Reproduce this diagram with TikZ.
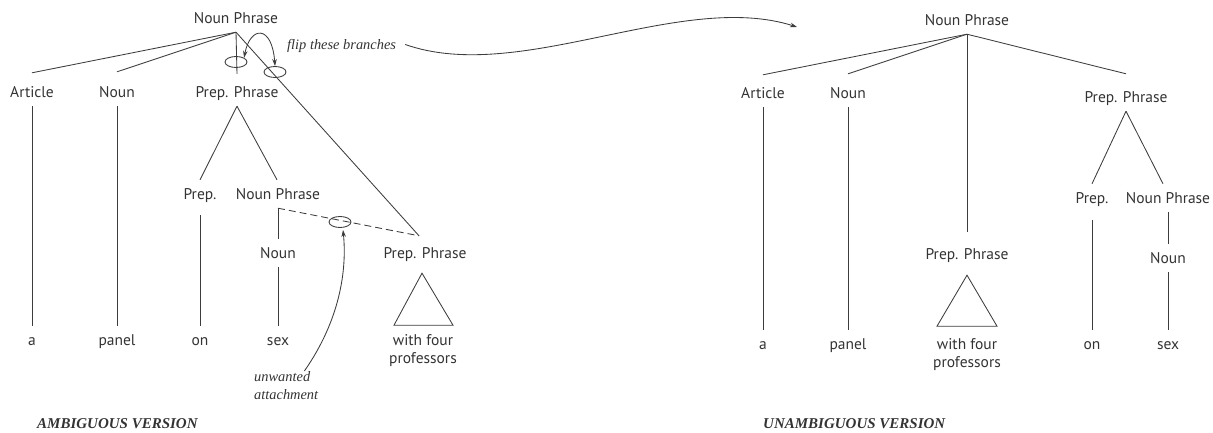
\documentclass[tikz,border=0pt]{standalone}
\usepackage{fontspec}
\setmainfont{Liberation Serif}
\newfontfamily\treefont{PT Sans}
\usetikzlibrary{arrows.meta,shapes.geometric}
\definecolor{ink}{HTML}{333333}
\definecolor{branch}{HTML}{3C3C3C}
\begin{document}
\begin{tikzpicture}[x=1pt,y=-1pt,
  lab/.style={font=\treefont\fontsize{15.5}{17}\selectfont, text=ink,
    inner xsep=1pt, inner ysep=8.7pt, text height=10.6pt, text depth=0pt},
  phrase/.style={font=\treefont\fontsize{15.5}{18}\selectfont, text=ink,
    align=center, inner sep=0pt, anchor=north},
  note/.style={font=\fontsize{14.4}{18}\selectfont\itshape, text=ink,
    inner sep=0pt, align=left},
  caption/.style={font=\fontsize{15}{18}\selectfont\bfseries\itshape,
    text=ink, inner sep=0pt, anchor=base west},
  br/.style={draw=branch, line width=0.85pt},
  ring/.style={ellipse, draw=branch, line width=0.85pt, minimum width=22pt,
    minimum height=11pt, inner sep=0pt},
  tip/.style={-{Stealth[length=7pt,width=4.5pt]}},
  tips/.style={{Stealth[length=7pt,width=4.5pt]}-{Stealth[length=7pt,width=4.5pt]}}
]
\useasboundingbox (0,0) rectangle (1213,433);

% ---------------- ambiguous tree ----------------
\node[lab] (np1)    at (236,18)  {Noun Phrase};
\node[lab] (art1)   at (32,92)   {Article};
\node[lab] (n1)     at (117,92)  {Noun};
\node[lab] (pp1)    at (237,92)  {Prep. Phrase};
\node[lab] (prep1)  at (200,194) {Prep.};
\node[lab] (npb1)   at (278,194) {Noun Phrase};
\node[lab] (nb1)    at (278,253) {Noun};
\node[lab] (ppb1)   at (425,253) {Prep. Phrase};
\node[lab] (a1)     at (32,340)  {a};
\node[lab] (panel1) at (117,340) {panel};
\node[lab] (on1)    at (200,340) {on};
\node[lab] (sex1)   at (278,340) {sex};
\node[phrase] (wf1) at (423,334) {with four\\professors};
\coordinate (ppb1top) at ([xshift=-6pt,yshift=3pt]ppb1.north);

\draw[br] (np1.south) -- ([yshift=5pt]art1.north);
\draw[br] (np1.south) -- ([yshift=6pt]n1.north);
\draw[br] (np1.south) -- ([yshift=4pt]pp1.north);
\draw[br] (np1.south) -- (ppb1top);
\draw[br] (art1.south) -- (a1.north);
\draw[br] (n1.south) -- (panel1.north);
\draw[br] (pp1.south) -- (prep1.north);
\draw[br] (pp1.south) -- ([xshift=-1pt]npb1.north);
\draw[br] ([yshift=-7pt]prep1.south) -- (on1.north);
\draw[br] (npb1.south) -- (nb1.north);
\draw[br, dash pattern=on 7pt off 4pt] (npb1.south) -- (ppb1top);
\draw[br] (nb1.south) -- (sex1.north);
\draw[br, line join=miter] ([xshift=-3pt,yshift=-6pt]ppb1.south)
  -- ++(-28,52) -- ++(59,0) -- cycle;

% marked attachments
\node[ring] (e1) at (236,62)  {};
\node[ring] (e2) at (275,72)  {};
\node[ring] (e3) at (340,222) {};
\draw[br, tips] (e1.north east) .. controls (250,26) and (272,24) .. (e2.north);

\node[note, anchor=base west] (flip) at (287,50) {flip these branches};
\node[note, anchor=north west] (unw) at (254,371) {unwanted\\attachment};
\draw[br, tip] ([xshift=-14pt]unw.north east)
  .. controls (340,320) and (347,270) .. ([xshift=3pt,yshift=-2pt]e3.south);

% transformation arrow
\coordinate (flipEnd) at (797,27);
\draw[br, tip] ([xshift=9pt,yshift=2pt]flip.east)
  .. controls (520,85) and (680,-10) .. (flipEnd);

% ---------------- unambiguous tree ----------------
\node[lab] (np2)    at (967,20)   {Noun Phrase};
\node[lab] (art2)   at (763,93)   {Article};
\node[lab] (n2)     at (848,93)   {Noun};
\node[lab] (pp2)    at (1126,97)  {Prep. Phrase};
\node[lab] (ppm2)   at (967,254)  {Prep. Phrase};
\node[lab] (prep2)  at (1092,198) {Prep.};
\node[lab] (npb2)   at (1168,198) {Noun Phrase};
\node[lab] (nb2)    at (1168,258) {Noun};
\node[lab] (a2)     at (763,344)  {a};
\node[lab] (panel2) at (848,344)  {panel};
\node[lab] (on2)    at (1092,344) {on};
\node[lab] (sex2)   at (1168,344) {sex};
\node[phrase] (wf2) at (967,338)  {with four\\professors};

\draw[br] (np2.south) -- ([yshift=4pt]art2.north);
\draw[br] (np2.south) -- ([yshift=5pt]n2.north);
\draw[br] (np2.south) -- ([yshift=8pt]ppm2.north);
\draw[br] (np2.south) -- ([yshift=9pt]pp2.north);
\draw[br] (art2.south) -- (a2.north);
\draw[br] (n2.south) -- (panel2.north);
\draw[br] (pp2.south) -- (prep2.north);
\draw[br] (pp2.south) -- ([xshift=-5pt]npb2.north);
\draw[br] ([yshift=-8pt]prep2.south) -- (on2.north);
\draw[br] (npb2.south) -- (nb2.north);
\draw[br] (nb2.south) -- (sex2.north);
\draw[br, line join=miter] ([yshift=-7pt]ppm2.south)
  -- ++(-30,51) -- ++(60,0) -- cycle;

% captions
\node[caption] (cap1) at (37,428)  {AMBIGUOUS VERSION};
\node[caption] (cap2) at (763,428) {UNAMBIGUOUS VERSION};
\end{tikzpicture}
\end{document}
